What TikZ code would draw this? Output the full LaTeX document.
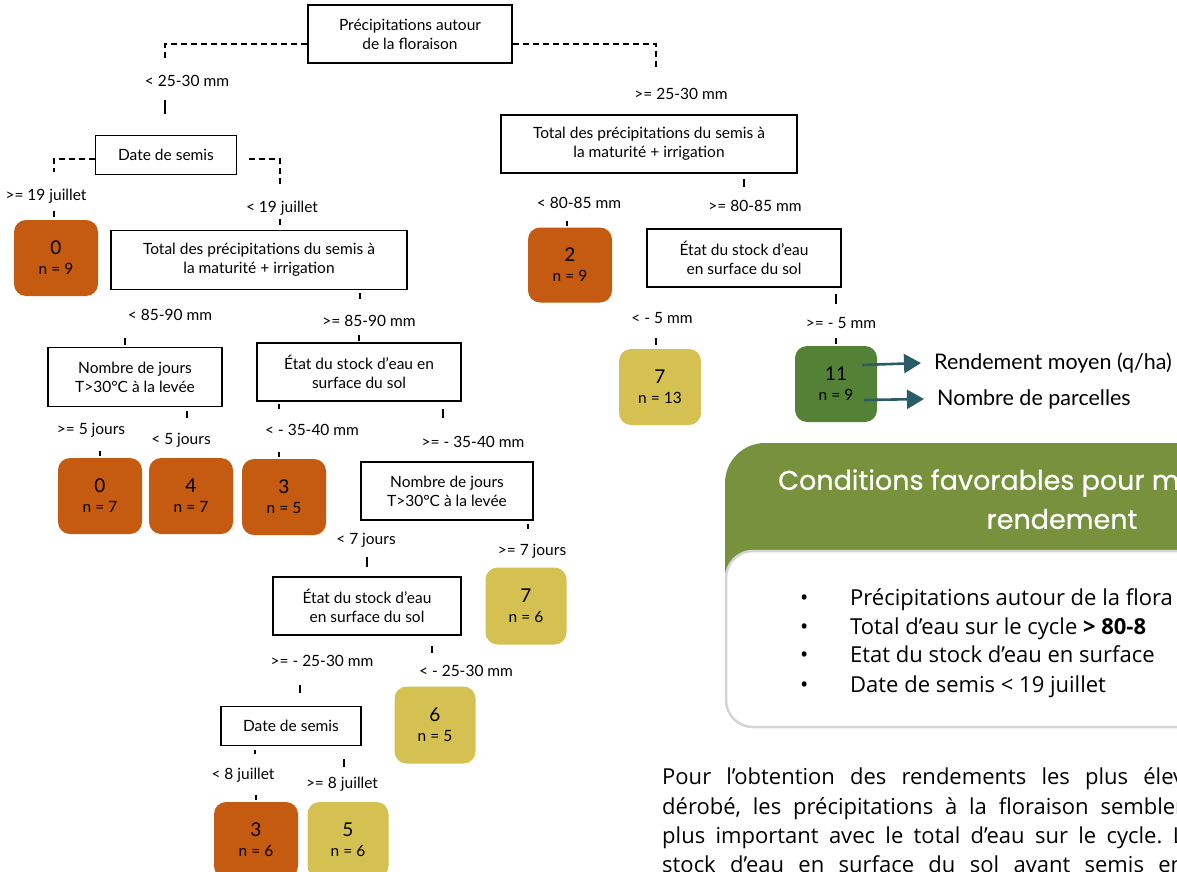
\documentclass[tikz,border=0pt]{standalone}
\usepackage{fontspec}
\setmainfont{Lato}
\newfontfamily\headfont[FakeBold=0.6]{Poppins}
\newfontfamily\notefont{Open Sans}
\usepackage{tikz}
\usetikzlibrary{arrows.meta,positioning,calc}
\usepackage{xcolor}
\frenchspacing

\definecolor{leaforange}{HTML}{C55A11}
\definecolor{leafyellow}{HTML}{D5C052}
\definecolor{leafgreen}{HTML}{538135}
\definecolor{headgreen}{HTML}{77913D}
\definecolor{arrowteal}{HTML}{2B5A68}
\definecolor{panelgrey}{HTML}{D4D4D4}

\newcommand\treefont{\fontsize{15.5}{19}\selectfont}
\newcommand\bodyfont{\notefont\fontsize{22}{24}\selectfont}
\newcommand\yield[2]{{\fontsize{19}{20}\selectfont #1}\\[1pt] n = #2}

\begin{document}
\begin{tikzpicture}[
    x=1pt, y=-1pt,
    cond/.style={rectangle, draw, line width=1.5pt, align=center, font=\treefont, inner sep=2pt},
    leaf/.style={rectangle, rounded corners=12pt, minimum width=84pt, minimum height=76pt, align=center, font=\treefont},
    split/.style={font=\treefont, inner sep=1pt},
    line/.style={anchor=base west, font=\bodyfont, inner sep=0pt},
    dashline/.style={line width=1.4pt, dash pattern=on 6pt off 4pt},
    stub/.style={line width=1.6pt},
    legarrow/.style={-{Triangle[length=17pt,width=19pt]}, line width=2.6pt, arrowteal}
]
\useasboundingbox (0,0) rectangle (1177,872);
\clip (0,0) rectangle (1177,872);

% Decision boxes
\node[cond, minimum width=204pt, minimum height=58pt] (root) at (410,34) {Précipitations autour\\de la floraison};
\node[cond, minimum width=141pt, minimum height=39pt] (date1) at (166,155) {Date de semis};
\node[cond, minimum width=296pt, minimum height=59pt] (total1) at (259,260) {Total des précipitations du semis à\\la maturité + irrigation};
\node[cond, minimum width=174pt, minimum height=59pt] (nombre1) at (135,377) {Nombre de jours\\T>30°C à la levée};
\node[cond, minimum width=204pt, minimum height=58pt] (etat1) at (359,372) {État du stock d’eau en\\surface du sol};
\node[cond, minimum width=172pt, minimum height=58pt] (nombre2) at (447,491) {Nombre de jours\\T>30°C à la levée};
\node[cond, minimum width=188pt, minimum height=58pt] (etat2) at (367,606) {État du stock d’eau\\en surface du sol};
\node[cond, minimum width=140pt, minimum height=39pt] (date2) at (291,726) {Date de semis};
\node[cond, minimum width=296pt, minimum height=58pt] (total2) at (649,144) {Total des précipitations du semis à\\la maturité + irrigation};
\node[cond, minimum width=194pt, minimum height=58pt] (etat3) at (744,258) {État du stock d’eau\\en surface du sol};

% Leaves
\node[leaf, fill=leaforange] (leafA) at (56,258) {\yield{0}{9}};
\node[leaf, fill=leaforange] (leafB) at (100,496) {\yield{0}{7}};
\node[leaf, fill=leaforange] (leafC) at (191,496) {\yield{4}{7}};
\node[leaf, fill=leaforange] (leafD) at (284,497) {\yield{3}{5}};
\node[leaf, fill=leafyellow, minimum width=81pt, minimum height=77pt] (leafE) at (526,606) {\yield{7}{6}};
\node[leaf, fill=leafyellow, minimum width=81pt, minimum height=77pt] (leafF) at (435,725) {\yield{6}{5}};
\node[leaf, fill=leaforange] (leafG) at (256,840) {\yield{3}{6}};
\node[leaf, fill=leafyellow, minimum width=81pt] (leafH) at (348,840) {\yield{5}{6}};
\node[leaf, fill=leaforange, minimum height=75pt] (leafR1) at (570,265) {\yield{2}{9}};
\node[leaf, fill=leafyellow, minimum width=82pt] (leafR2) at (660,387) {\yield{7}{13}};
\node[leaf, fill=leafgreen, minimum width=82pt] (leafR3) at (836,384) {\yield{11}{9}};

% Split labels
\node[split] (s1) at (187,81) {< 25-30 mm};
\node[split] (s2) at (681,94) {>= 25-30 mm};
\node[split] (s3) at (46,196) {>= 19 juillet};
\node[split] (s4) at (282,208) {< 19 juillet};
\node[split] (s5) at (170,315) {< 85-90 mm};
\node[split] (s6) at (369,321) {>= 85-90 mm};
\node[split] (s7) at (91,430) {>= 5 jours};
\node[split] (s8) at (181,440) {< 5 jours};
\node[split] (s9) at (312,430) {< - 35-40 mm};
\node[split] (s10) at (473,442) {>= - 35-40 mm};
\node[split] (s11) at (366,540) {< 7 jours};
\node[split] (s12) at (532,551) {>= 7 jours};
\node[split] (s13) at (322,661) {>= - 25-30 mm};
\node[split] (s14) at (466,671) {< - 25-30 mm};
\node[split] (s15) at (243,775) {< 8 juillet};
\node[split] (s16) at (342,784) {>= 8 juillet};
\node[split] (s17) at (579,203) {< 80-85 mm};
\node[split] (s18) at (755,206) {>= 80-85 mm};
\node[split] (s19) at (662,318) {< - 5 mm};
\node[split] (s20) at (841,323) {>= - 5 mm};

% Dashed connectors
\draw[dashline] ([yshift=-10pt]root.west) -| ($(date1.north)+(-1,-77)$);
\draw[dashline] ([yshift=-10pt]root.east) -| ($(total2.north)+(7,-45)$);
\draw[dashline] ([yshift=-4pt]date1.west) -| ($(leafA.north)+(-2,-48)$);
\draw[dashline] ([xshift=12pt,yshift=-4pt]date1.east) -| ($(total1.north)+(21,-43)$);

% Stubs left of the cut connectors
\draw[stub] ($(date1.north)+(-1,-35)$) -- ++(0,14);
\draw[stub] ($(leafA.north)+(-2,-9)$) -- ++(0,6);
\draw[stub] ($(total1.north)+(21,-11)$) -- ++(0,6);
\draw[stub] ($(total1.south)+(101,3)$) -- ++(0,6);
\draw[stub] ($(etat1.north)+(0,-7)$) -- ++(0,6);
\draw[stub] ($(nombre1.north)+(-10,-9)$) -- ++(0,7);
\draw[stub] ($(nombre1.south)+(52,4)$) -- ++(0,7);
\draw[stub] ($(leafB.north)+(0,-7)$) -- ++(0,5);
\draw[stub] ($(etat1.south)+(-80,2)$) -- ++(0,5);
\draw[stub] ($(etat1.south)+(84,7)$) -- ++(0,9);
\draw[stub] ($(leafD.north)+(-5,-7)$) -- ++(0,5);
\draw[stub] ($(nombre2.south)+(81,3)$) -- ++(0,5);
\draw[stub] ($(etat2.north)+(0,-19)$) -- ++(0,10);
\draw[stub] ($(etat2.south)+(65,10)$) -- ++(0,7);
\draw[stub] ($(date2.north)+(9,-21)$) -- ++(0,8);
\draw[stub] ($(date2.south)+(-36,4)$) -- ++(0,4);
\draw[stub] ($(date2.south)+(53,13)$) -- ++(0,8);
\draw[stub] ($(leafG.north)+(0,-7)$) -- ++(0,5);
\draw[stub] ($(total2.south)+(95,5)$) -- ++(0,8);
\draw[stub] ($(leafR1.north)+(-3,-6)$) -- ++(0,5);
\draw[stub] ($(etat3.south)+(92,6)$) -- ++(0,10);
\draw[stub] ($(leafR2.north)+(-4,-11)$) -- ++(0,7);
\draw[stub] ($(leafR3.north)+(0,-8)$) -- ++(0,6);

% Legend
\node[anchor=west, font=\fontsize{21.5}{24}\selectfont, inner sep=3pt] (legval) at (931,363) {Rendement moyen (q/ha)};
\node[anchor=west, font=\fontsize{21.5}{24}\selectfont, inner sep=3pt] (legn) at (934,399) {Nombre de parcelles};
\draw[legarrow] ($(leafR3.center)+(26,-19)$) -- ([xshift=-10pt]legval.west);
\draw[legarrow] ($(leafR3.center)+(28,16)$) -- ([xshift=-10pt]legn.west);

% Summary panel
\fill[headgreen] (725,600) -- (725,483) arc[start angle=180, end angle=270, radius=40] -- (1400,443) -- (1400,600) -- cycle;
\draw[fill=white, draw=panelgrey, line width=2.5pt, rounded corners=27pt] (726,727) rectangle (1400,551);
\node[anchor=west, text=white, font=\headfont\fontsize{27}{30}\selectfont, inner sep=0pt] (title1) at (778,483) {Conditions favorables pour m};
\node[text=white, font=\headfont\fontsize{27}{30}\selectfont, inner sep=0pt] (title2) at (1062,519) {rendement};

\node[line] (b1) at (800,605) {\makebox[50pt][l]{\textbullet}Précipitations autour de la flora};
\node[line] (b2) at (800,634) {\makebox[50pt][l]{\textbullet}Total d’eau sur le cycle \textbf{> 80-8}};
\node[line] (b3) at (800,662) {\makebox[50pt][l]{\textbullet}Etat du stock d’eau en surface};
\node[line] (b4) at (800,692) {\makebox[50pt][l]{\textbullet}Date de semis < 19 juillet};

% Text below
\node[line] (p1) at (662,784) {\makebox[522pt][s]{Pour l’obtention des rendements les plus élev}};
\node[line] (p2) at (662,814) {\makebox[522pt][s]{dérobé, les précipitations à la floraison sembler}};
\node[line] (p3) at (662,843) {\makebox[522pt][s]{plus important avec le total d’eau sur le cycle. L}};
\node[line] (p4) at (662,872) {\makebox[522pt][s]{stock d’eau en surface du sol avant semis en}};

\end{tikzpicture}
\end{document}
